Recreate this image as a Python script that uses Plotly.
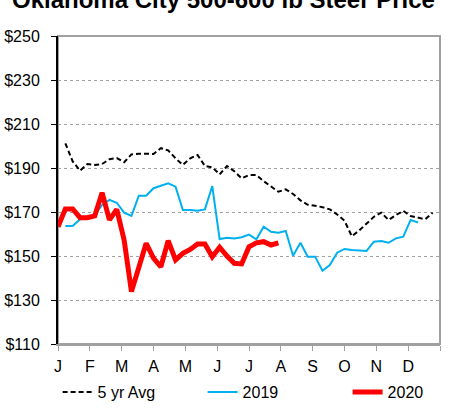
import plotly.graph_objects as go

title_text = "Oklahoma City 500-600 lb Steer Price"
month_labels = ["J", "F", "M", "A", "M", "J", "J", "A", "S", "O", "N", "D", ""]

avg5_weeks = list(range(2, 53))
avg5_vals = [201.2, 193.0, 188.8, 191.8, 191.4, 191.8, 194.0, 194.5, 192.6, 196.2,
             196.5, 196.4, 196.4, 199.0, 198.0, 194.4, 191.4, 194.4, 195.9, 190.9,
             190.3, 187.1, 190.9, 188.5, 185.3, 186.8, 186.8, 184.0, 181.7, 179.2,
             180.3, 178.2, 175.3, 173.3, 172.8, 172.2, 171.2, 168.9, 166.0, 159.0,
             161.6, 164.8, 167.8, 169.7, 166.4, 168.6, 170.5, 168.2, 167.6, 166.7,
             169.7]

y2019_weeks = list(range(2, 51))
y2019_vals = [163.6, 163.6, 166.7, 167.2, 168.6, 173.2, 175.5, 174.2, 169.7, 168.2,
              177.4, 177.4, 180.8, 182.0, 183.0, 181.5, 170.9, 170.9, 170.6, 171.2,
              181.8, 157.7, 158.3, 158.0, 158.5, 159.7, 157.6, 163.3, 161.0, 160.6,
              161.4, 150.1, 156.0, 149.7, 149.7, 143.3, 145.9, 151.5, 153.2, 152.7,
              152.5, 152.3, 156.5, 156.8, 156.0, 158.0, 158.8, 166.4, 165.2]

y2020_weeks = list(range(1, 32))
y2020_vals = [163.3, 171.4, 171.4, 167.4, 167.4, 168.2, 178.8, 166.4, 171.2, 157.3,
              133.8, 145.0, 155.8, 149.0, 145.1, 157.0, 148.2, 151.2, 153.0, 155.5,
              155.5, 149.7, 154.0, 150.0, 146.7, 146.4, 154.2, 156.0, 156.5, 155.0,
              156.0]

FONT = "Liberation Sans, Arial, sans-serif"

fig = go.Figure()
fig.add_trace(go.Scatter(x=avg5_weeks, y=avg5_vals, mode="lines", name="5 yr Avg",
                         line=dict(color="#000000", width=2, dash="5px,3px")))
fig.add_trace(go.Scatter(x=y2019_weeks, y=y2019_vals, mode="lines", name="2019",
                         line=dict(color="#00B0F0", width=2)))
fig.add_trace(go.Scatter(x=y2020_weeks, y=y2020_vals, mode="lines", name="2020",
                         line=dict(color="#FF0000", width=5)))

month_ticks = [1 + 52 / 12 * k for k in range(13)]

fig.update_layout(
    width=475, height=410,
    margin=dict(l=58, r=35, t=36, b=66, autoexpand=False),
    paper_bgcolor="white", plot_bgcolor="white",
    font=dict(family=FONT, size=16, color="#000000"),
    showlegend=True,
    legend=dict(orientation="h", x=-0.001, xanchor="left", y=-0.156, yanchor="middle",
                font=dict(family=FONT, size=16), entrywidth=100, entrywidthmode="pixels",
                bgcolor="rgba(0,0,0,0)", traceorder="normal"),
    xaxis=dict(range=[1, 53], tickvals=month_ticks, ticktext=month_labels,
               showgrid=False, zeroline=False, showline=True, linecolor="#A0A0A0",
               linewidth=2, ticks="outside", ticklen=5, tickcolor="#A0A0A0",
               tickfont=dict(family=FONT, size=16), ticklabelstandoff=2,
               automargin=False),
    yaxis=dict(range=[110, 250], dtick=20, tick0=110, tickprefix="$",
               showgrid=True, gridcolor="#A0A0A0", griddash="dot", gridwidth=1,
               zeroline=False, showline=True, linecolor="#000000", linewidth=2,
               ticks="outside", ticklen=5, tickcolor="#000000",
               tickfont=dict(family=FONT, size=16), ticklabelstandoff=8,
               automargin=False),
    shapes=[dict(type="rect", xref="paper", yref="paper", x0=0, x1=1, y0=0, y1=1,
                 line=dict(color="#A0A0A0", width=2), layer="below")],
    annotations=[dict(text="<b>" + title_text + "</b>", xref="paper", yref="paper",
                      x=0.433, y=1.12, xanchor="center", yanchor="middle",
                      showarrow=False,
                      font=dict(family=FONT, size=24, color="#000000"))],
)

fig.write_html("out.html", config={"displayModeBar": False},
               post_script="document.body.style.margin='0';")
